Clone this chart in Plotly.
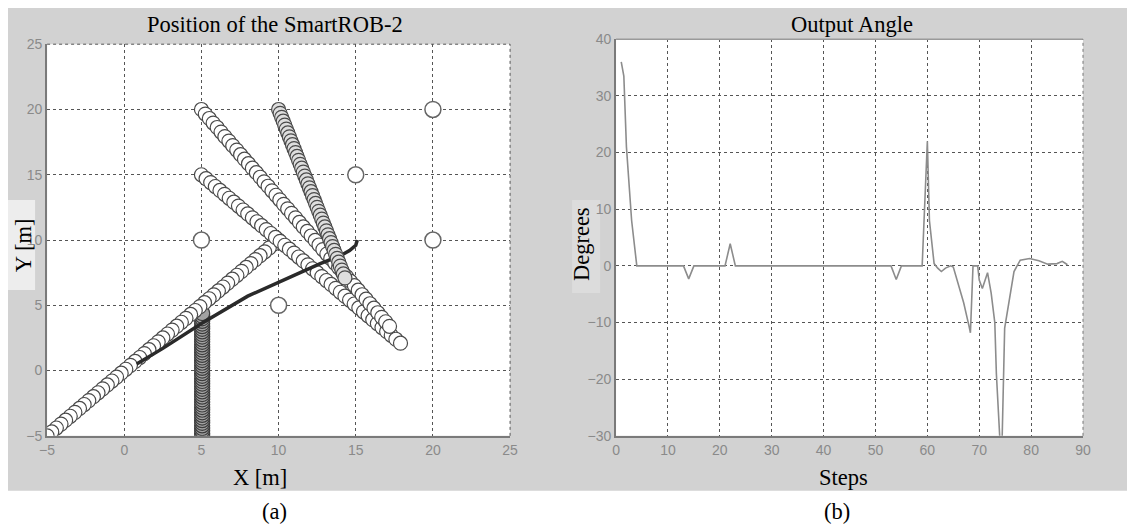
import plotly.graph_objects as go

W, H = 1135, 527

# ---------------- data: left panel (positions, m) ----------------
static_x = [5, 10, 15, 20, 20]
static_y = [10, 5, 15, 20, 10]

trajA_x = [10.0, 9.7, 9.4, 9.1, 8.8, 8.5, 8.2, 7.9, 7.6, 7.3, 7.0, 6.7, 6.4, 6.1, 5.8, 5.5, 5.2,
           4.9, 4.6, 4.3, 4.0, 3.7, 3.4, 3.1, 2.8, 2.5, 2.2, 1.9, 1.6, 1.3, 1.0, 0.7, 0.4, 0.1,
           -0.2, -0.5, -0.8, -1.1, -1.4, -1.7, -2.0, -2.3, -2.6, -2.9, -3.2, -3.5, -3.8, -4.1,
           -4.4, -4.7, -5.0]
trajA_y = [10.0, 9.7, 9.4, 9.1, 8.8, 8.5, 8.2, 7.9, 7.6, 7.3, 7.0, 6.7, 6.4, 6.1, 5.8, 5.5, 5.2,
           4.9, 4.6, 4.3, 4.0, 3.7, 3.4, 3.1, 2.8, 2.5, 2.2, 1.9, 1.6, 1.3, 1.0, 0.7, 0.4, 0.1,
           -0.2, -0.5, -0.8, -1.1, -1.4, -1.7, -2.0, -2.3, -2.6, -2.9, -3.2, -3.5, -3.8, -4.1,
           -4.4, -4.7, -5.0]

trajB_x = [5.00, 5.25, 5.51, 5.76, 6.02, 6.27, 6.52, 6.78, 7.03, 7.29, 7.54, 7.79, 8.05, 8.30,
           8.56, 8.81, 9.06, 9.32, 9.57, 9.83, 10.08, 10.33, 10.59, 10.84, 11.10, 11.35, 11.60,
           11.86, 12.11, 12.37, 12.62, 12.87, 13.13, 13.38, 13.64, 13.89, 14.14, 14.40, 14.65,
           14.91, 15.16, 15.41, 15.67, 15.92, 16.18, 16.43, 16.68, 16.94, 17.19]
trajB_y = [20.00, 19.65, 19.31, 18.96, 18.62, 18.27, 17.92, 17.58, 17.23, 16.89, 16.54, 16.19,
           15.85, 15.50, 15.16, 14.81, 14.46, 14.12, 13.77, 13.43, 13.08, 12.73, 12.39, 12.04,
           11.70, 11.35, 11.00, 10.66, 10.31, 9.97, 9.62, 9.27, 8.93, 8.58, 8.24, 7.89, 7.54,
           7.20, 6.85, 6.51, 6.16, 5.81, 5.47, 5.12, 4.78, 4.43, 4.08, 3.74, 3.39]

trajC_x = [5.0, 5.3, 5.6, 5.9, 6.2, 6.5, 6.8, 7.1, 7.4, 7.7, 8.0, 8.3, 8.6, 8.9, 9.2, 9.5, 9.8,
           10.1, 10.4, 10.7, 11.0, 11.3, 11.6, 11.9, 12.2, 12.5, 12.8, 13.1, 13.4, 13.7, 14.0,
           14.3, 14.6, 14.9, 15.2, 15.5, 15.8, 16.1, 16.4, 16.7, 17.0, 17.3, 17.6, 17.9]
trajC_y = [15.0, 14.7, 14.4, 14.1, 13.8, 13.5, 13.2, 12.9, 12.6, 12.3, 12.0, 11.7, 11.4, 11.1,
           10.8, 10.5, 10.2, 9.9, 9.6, 9.3, 9.0, 8.7, 8.4, 8.1, 7.8, 7.5, 7.2, 6.9, 6.6, 6.3,
           6.0, 5.7, 5.4, 5.1, 4.8, 4.5, 4.2, 3.9, 3.6, 3.3, 3.0, 2.7, 2.4, 2.1]

trajD_x = [10.0, 10.1, 10.2, 10.3, 10.4, 10.5, 10.6, 10.7, 10.8, 10.9, 11.0, 11.1, 11.2, 11.3,
           11.4, 11.5, 11.6, 11.7, 11.8, 11.9, 12.0, 12.1, 12.2, 12.3, 12.4, 12.5, 12.6, 12.7,
           12.8, 12.9, 13.0, 13.1, 13.2, 13.3, 13.4, 13.5, 13.6, 13.7, 13.8, 13.9, 14.0, 14.1,
           14.2, 14.3]
trajD_y = [20.0, 19.7, 19.4, 19.1, 18.8, 18.5, 18.2, 17.9, 17.6, 17.3, 17.0, 16.7, 16.4, 16.1,
           15.8, 15.5, 15.2, 14.9, 14.6, 14.3, 14.0, 13.7, 13.4, 13.1, 12.8, 12.5, 12.2, 11.9,
           11.6, 11.3, 11.0, 10.7, 10.4, 10.1, 9.8, 9.5, 9.2, 8.9, 8.6, 8.3, 8.0, 7.7, 7.4, 7.1]

col_x = [5.05, 5.05, 5.05, 5.05, 5.05, 5.05, 5.05, 5.05, 5.05, 5.05, 5.05, 5.05, 5.05, 5.05,
         5.05, 5.05, 5.05, 5.05, 5.05, 5.05, 5.05, 5.05, 5.05, 5.05, 5.05, 5.05, 5.05, 5.05,
         5.05, 5.05, 5.05, 5.05, 5.05, 5.05, 5.05, 5.05, 5.05, 5.05, 5.05, 5.05, 5.05, 5.05,
         5.05, 5.05, 5.05, 5.05, 5.05, 5.05]
col_y = [-5.0, -4.8, -4.6, -4.4, -4.2, -4.0, -3.8, -3.6, -3.4, -3.2, -3.0, -2.8, -2.6, -2.4,
         -2.2, -2.0, -1.8, -1.6, -1.4, -1.2, -1.0, -0.8, -0.6, -0.4, -0.2, 0.0, 0.2, 0.4, 0.6,
         0.8, 1.0, 1.2, 1.4, 1.6, 1.8, 2.0, 2.2, 2.4, 2.6, 2.8, 3.0, 3.2, 3.4, 3.6, 3.8, 4.0,
         4.2, 4.4]

robot_x = [0.8, 2.5, 5.0, 8.0, 11.4, 12.7, 14.0, 14.6, 15.0, 15.1]
robot_y = [0.5, 1.7, 3.6, 5.7, 7.5, 8.2, 8.8, 9.2, 9.6, 10.0]

# ---------------- data: right panel (output angle) ----------------
steps = [1, 1.5, 2, 3, 4, 13, 14, 15, 21, 22, 23, 53, 54, 55, 59, 59.3, 60, 60.4, 61, 61.3,
         62, 62.7, 63.5, 64.5, 65, 66, 67, 68, 68.3, 68.8, 69.7, 70, 70.6, 71.6, 72.3, 73,
         73.3, 74, 74.4, 74.9, 75.8, 76.7, 77.9, 79.7, 81.5, 83.2, 85, 86, 86.5, 87]
angle = [36, 33.5, 21, 8, 0, 0, -2.3, 0, 0, 3.9, 0, 0, -2.4, 0, 0, 6.5, 22, 8, 3, 0.4,
         -0.4, -1, -0.4, 0, -0.2, -3.5, -6.5, -10.5, -11.8, 0, 0, -2.5, -4, -1.2, -4.8, -10,
         -19, -31, -31, -11, -6, -1, 1, 1.3, 0.9, 0.3, 0.4, 0.8, 0.5, 0.2]

xticks_a = [-5, 0, 5, 10, 15, 20, 25]
yticks_a = [-5, 0, 5, 10, 15, 20, 25]
xticks_b = [0, 10, 20, 30, 40, 50, 60, 70, 80, 90]
yticks_b = [-30, -20, -10, 0, 10, 20, 30, 40]


# layout helpers: map a target picture pixel to a figure pixel (the photo adds an
# 8 px frame and is rescaled), then to paper fractions
def fx(p):
    return (p / 0.986 - 8) / W


def fy(p):
    return 1 - (p / 0.9705 - 8) / H


# ---------------- figure ----------------
fig = go.Figure()

circ_line = dict(color="#4a4a4a", width=1.2)

fig.add_trace(go.Scatter(x=col_x, y=col_y, mode="markers", xaxis="x", yaxis="y",
                         marker=dict(symbol="circle", size=15, color="#a2a2a2",
                                     line=dict(color="#3c3c3c", width=1.2))))
fig.add_trace(go.Scatter(x=static_x, y=static_y, mode="markers", xaxis="x", yaxis="y",
                         marker=dict(symbol="circle", size=16, color="white",
                                     line=dict(color="#666666", width=1.5))))
for tx, ty in [(trajA_x, trajA_y), (trajC_x, trajC_y), (trajB_x, trajB_y)]:
    fig.add_trace(go.Scatter(x=tx, y=ty, mode="markers", xaxis="x", yaxis="y",
                             marker=dict(symbol="circle", size=14, color="white", line=circ_line)))
fig.add_trace(go.Scatter(x=robot_x, y=robot_y, mode="lines", xaxis="x", yaxis="y",
                         line=dict(color="#2a2a2a", width=3.5)))
fig.add_trace(go.Scatter(x=trajD_x, y=trajD_y, mode="markers", xaxis="x", yaxis="y",
                         marker=dict(symbol="circle", size=14, color="#dedede", line=circ_line)))

fig.add_trace(go.Scatter(x=steps, y=angle, mode="lines", xaxis="x2", yaxis="y2",
                         line=dict(color="#8c8c8c", width=1.6)))

tickfont = dict(family="Liberation Sans", size=14, color="#8a8a8a")
axis_common = dict(showgrid=True, gridcolor="#555555", griddash="dot", gridwidth=1,
                   zeroline=False, showline=True, linecolor="#7a7a7a", linewidth=2,
                   ticks="", tickfont=tickfont, fixedrange=True)

GRAY = "#d2d2d2"
fig.update_layout(
    width=W, height=H, showlegend=False,
    margin=dict(l=0, r=0, t=0, b=0),
    paper_bgcolor="white", plot_bgcolor="white",
    xaxis=dict(domain=[fx(47), fx(510)], range=[-5, 25], tickvals=xticks_a,
               anchor="y", **axis_common),
    yaxis=dict(domain=[fy(436), fy(44)], range=[-5, 25], tickvals=yticks_a,
               anchor="x", **axis_common),
    xaxis2=dict(domain=[fx(616), fx(1083)], range=[0, 90], tickvals=xticks_b,
                anchor="y2", **axis_common),
    yaxis2=dict(domain=[fy(436), fy(39)], range=[-30, 40], tickvals=yticks_b,
                anchor="x2", **axis_common),
)

shapes = [
    # gray figure panel
    dict(type="rect", xref="paper", yref="paper", x0=0, x1=1, y0=fy(491), y1=1,
         fillcolor=GRAY, line=dict(width=0), layer="below"),
    # white plot areas (drawn over the panel, under grid and data)
    dict(type="rect", xref="x domain", yref="y domain", x0=0, x1=1, y0=0, y1=1,
         fillcolor="white", line=dict(width=0), layer="below"),
    dict(type="rect", xref="x2 domain", yref="y2 domain", x0=0, x1=1, y0=0, y1=1,
         fillcolor="white", line=dict(width=0), layer="below"),
    # light boxes behind the vertical labels
    dict(type="rect", xref="paper", yref="paper", x0=0, x1=fx(35), y0=fy(290),
         y1=fy(200), fillcolor="#ededed", line=dict(width=0), layer="below"),
    dict(type="rect", xref="paper", yref="paper", x0=fx(572), x1=fx(600), y0=fy(293),
         y1=fy(200), fillcolor="#dcdcdc", line=dict(width=0), layer="below"),
    # box edges
    dict(type="line", xref="x domain", yref="y domain", x0=0, x1=1, y0=1, y1=1,
         line=dict(color="#555555", width=1, dash="dot")),
    dict(type="line", xref="x domain", yref="y domain", x0=1, x1=1, y0=0, y1=1,
         line=dict(color="#555555", width=1, dash="dot")),
    dict(type="line", xref="x2 domain", yref="y2 domain", x0=0, x1=1, y0=1, y1=1,
         line=dict(color="#9a9a9a", width=1.5)),
    dict(type="line", xref="x2 domain", yref="y2 domain", x0=1, x1=1, y0=0, y1=1,
         line=dict(color="#777777", width=1, dash="dot")),
]
fig.update_layout(shapes=shapes)

serif = dict(family="Liberation Serif", size=22.5, color="black")
texts = [
    ("Position of the SmartROB-2", 275, 24, 0),
    ("Output Angle", 852, 24, 0),
    ("X [m]", 260, 478, 0),
    ("Steps", 843, 478, 0),
    ("(a)", 274, 512, 0),
    ("(b)", 837, 512, 0),
    ("Y [m]", 23, 245, -90),
    ("Degrees", 581, 244, -90),
]
for t, x, y, ang in texts:
    fig.add_annotation(text=t, x=fx(x), y=fy(y), xref="paper", yref="paper",
                       showarrow=False, font=serif, textangle=ang,
                       xanchor="center", yanchor="middle")

fig.write_html("out.html", config={"displayModeBar": False},
               post_script="document.body.style.margin='0';document.body.style.background='white';")
